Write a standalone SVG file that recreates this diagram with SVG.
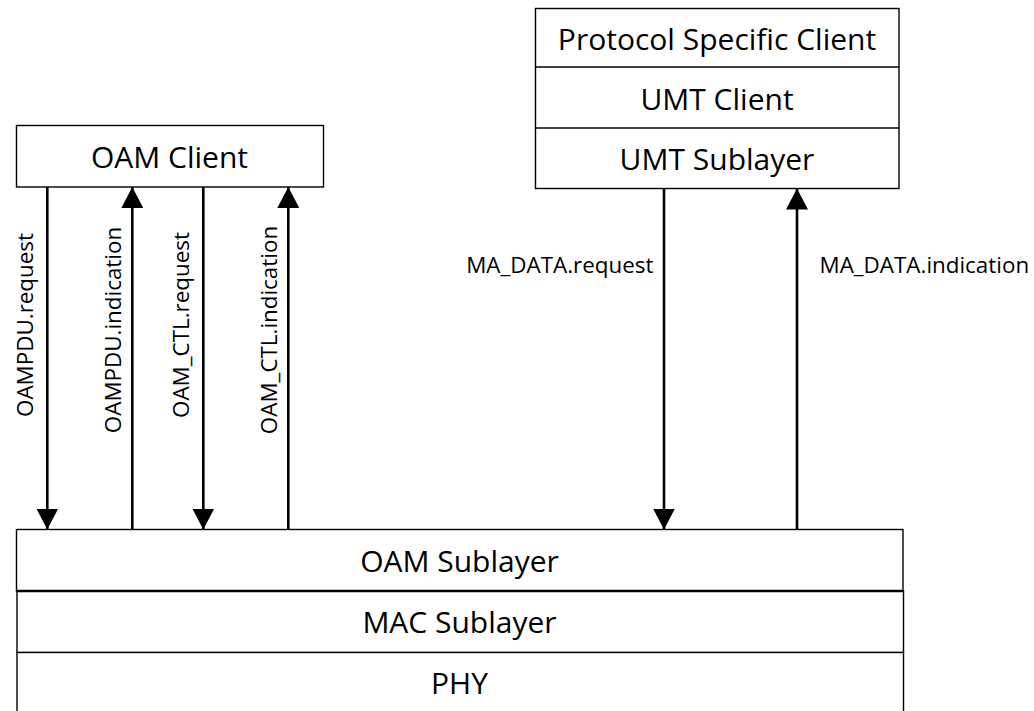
<svg xmlns="http://www.w3.org/2000/svg" width="1034" height="711" viewBox="0 0 1034 711">
<style>
.box{fill:#fff;stroke:#000;stroke-width:1.4}
.t{font-family:"Open Sans","Noto Sans",sans-serif;font-size:30px;fill:#000;text-anchor:middle}
.l{font-family:"Open Sans","Noto Sans",sans-serif;font-size:22.4px;fill:#000}
.c{stroke:#000;stroke-width:2.6;fill:none}
</style>
<defs>
<marker id="ah" markerUnits="userSpaceOnUse" markerWidth="22" markerHeight="22" viewBox="0 0 22 22" refX="21" refY="11" orient="auto">
<path d="M0,0 L21,11 L0,22 Z" fill="#000"/>
</marker>
</defs>
<rect width="1034" height="711" fill="#fff"/>
<g id="oam-client">
<rect class="box" x="16.5" y="125.5" width="307" height="61.5"/>
<text class="t" x="169.5" y="168.3">OAM Client</text>
</g>
<g id="umt-stack">
<rect class="box" x="535.5" y="8.5" width="363.5" height="180"/>
<line x1="535.5" y1="67" x2="899" y2="67" stroke="#000" stroke-width="1.4"/>
<line x1="535.5" y1="128" x2="899" y2="128" stroke="#000" stroke-width="1.4"/>
<text class="t" x="717" y="50">Protocol Specific Client</text>
<text class="t" x="717" y="109.5">UMT Client</text>
<text class="t" x="717" y="170">UMT Sublayer</text>
</g>
<g id="oam-sublayer">
<rect class="box" x="16.5" y="529.5" width="886.5" height="61.5"/>
<text class="t" x="459.5" y="571.7">OAM Sublayer</text>
</g>
<g id="mac-sublayer">
<rect class="box" x="17" y="591" width="886.5" height="61.5"/>
<line x1="16" y1="591" x2="903" y2="591" stroke="#000" stroke-width="2.4"/>
<text class="t" x="459.5" y="633.3">MAC Sublayer</text>
</g>
<g id="phy">
<rect class="box" x="17" y="652.5" width="886.5" height="70"/>
<text class="t" x="459.5" y="694">PHY</text>
</g>
<g id="connectors">
<line class="c" x1="47.3" y1="187" x2="47.3" y2="529.5" marker-end="url(#ah)"/>
<line class="c" x1="132.3" y1="529.5" x2="132.3" y2="187" marker-end="url(#ah)"/>
<line class="c" x1="203.3" y1="187" x2="203.3" y2="529.5" marker-end="url(#ah)"/>
<line class="c" x1="288.3" y1="529.5" x2="288.3" y2="187" marker-end="url(#ah)"/>
<line class="c" x1="664" y1="188.5" x2="664" y2="529.5" marker-end="url(#ah)"/>
<line class="c" x1="797" y1="529.5" x2="797" y2="188.5" marker-end="url(#ah)"/>
<text class="l" text-anchor="middle" x="33.3" y="325" transform="rotate(-90 33.3 325)">OAMPDU.request</text>
<text class="l" text-anchor="middle" x="120.5" y="330" transform="rotate(-90 120.5 330)">OAMPDU.indication</text>
<text class="l" text-anchor="middle" x="189" y="325" transform="rotate(-90 189 325)">OAM_CTL.request</text>
<text class="l" text-anchor="middle" x="277" y="330" transform="rotate(-90 277 330)">OAM_CTL.indication</text>
<text class="l" text-anchor="end" x="653.5" y="273">MA_DATA.request</text>
<text class="l" x="819.5" y="273">MA_DATA.indication</text>
</g>
</svg>
